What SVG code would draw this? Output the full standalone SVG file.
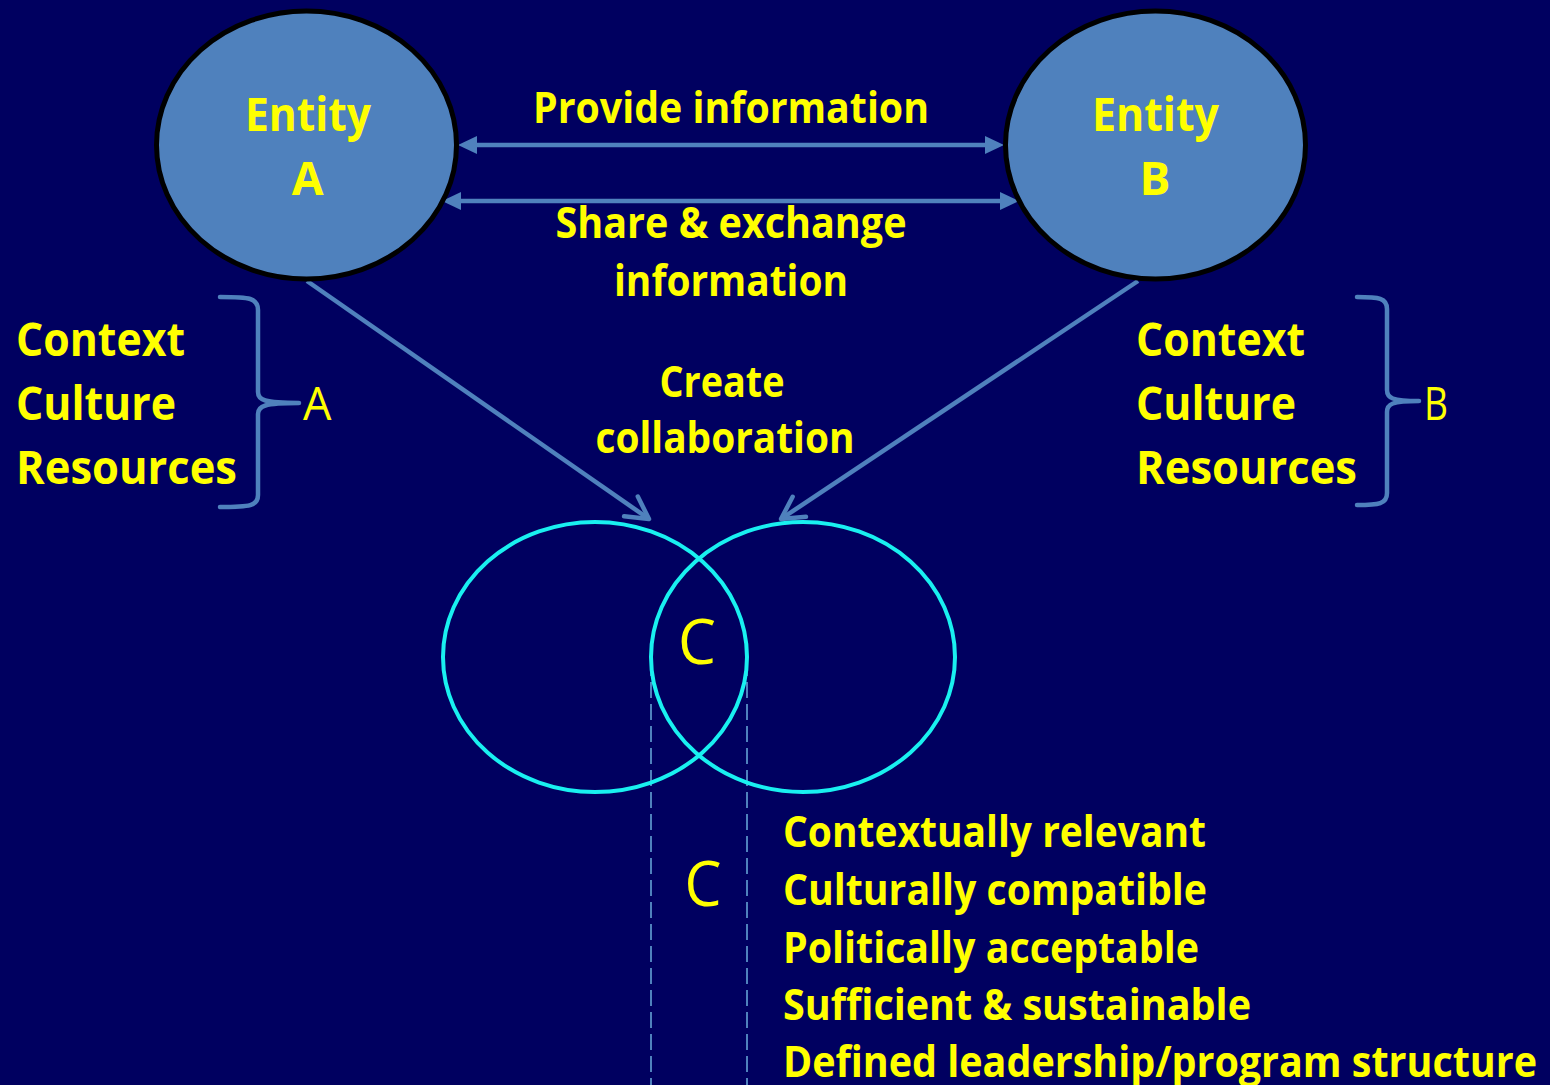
<svg xmlns="http://www.w3.org/2000/svg" width="1550" height="1085" viewBox="0 0 1550 1085">
  <style>
    .bold { font-family: "Open Sans", "Noto Sans", "Liberation Sans", sans-serif; font-weight: 700; fill: #FFFF00; }
    .reg { font-family: "Open Sans", "Noto Sans", "Liberation Sans", sans-serif; font-weight: 400; fill: #FFFF00; }
    .entity { fill: #4F81BD; stroke: #000000; stroke-width: 5; }
    .ring { fill: none; stroke: #19F0F0; stroke-width: 4; }
    .link { fill: none; stroke: #4F81BD; stroke-width: 4.5; }
    .brace { fill: none; stroke: #4F81BD; stroke-width: 4.5; stroke-linecap: round; stroke-linejoin: round; }
    .guide { fill: none; stroke: #4F81BD; stroke-width: 2; stroke-dasharray: 16 6; }
  </style>
  <defs>
    <marker id="tri" markerUnits="userSpaceOnUse" markerWidth="20" markerHeight="18" viewBox="0 0 20 18" refX="8" refY="9" orient="auto-start-reverse">
      <path d="M0,0 L19,9 L0,18 Z" fill="#4F81BD"/>
    </marker>
    <marker id="vee" markerUnits="userSpaceOnUse" markerWidth="40" markerHeight="40" viewBox="-30 -20 40 40" refX="0" refY="0" orient="auto" overflow="visible">
      <path d="M-22,-12 L0,0 L-22,12" fill="none" stroke="#4F81BD" stroke-width="4.5" stroke-linecap="round" stroke-linejoin="round"/>
    </marker>
  </defs>

  <rect x="0" y="0" width="1550" height="1085" fill="#000060"/>

  <!-- connectors -->
  <g id="connectors">
    <line class="link" x1="469" y1="145" x2="993" y2="145" marker-start="url(#tri)" marker-end="url(#tri)"/>
    <line class="link" x1="453" y1="201" x2="1008" y2="201" marker-start="url(#tri)" marker-end="url(#tri)"/>
    <line class="link" x1="307" y1="281" x2="649" y2="519" marker-end="url(#vee)"/>
    <line class="link" x1="1138" y1="281" x2="781" y2="519" marker-end="url(#vee)"/>
    <line class="guide" x1="651" y1="660" x2="651" y2="1085"/>
    <line class="guide" x1="747" y1="660" x2="747" y2="1085"/>
  </g>

  <!-- entity A -->
  <g id="entity-a">
    <ellipse class="entity" cx="306.5" cy="145" rx="150" ry="134"/>
    <text class="bold" x="308" y="131" font-size="46" text-anchor="middle" textLength="126" lengthAdjust="spacingAndGlyphs">Entity</text>
    <text class="bold" x="307.5" y="195" font-size="46" text-anchor="middle">A</text>
  </g>

  <!-- entity B -->
  <g id="entity-b">
    <ellipse class="entity" cx="1155.5" cy="145" rx="150" ry="134"/>
    <text class="bold" x="1155.5" y="131" font-size="46" text-anchor="middle" textLength="127" lengthAdjust="spacingAndGlyphs">Entity</text>
    <text class="bold" x="1155" y="195" font-size="46" text-anchor="middle">B</text>
  </g>

  <!-- link labels -->
  <g id="label-provide">
    <text class="bold" x="731" y="123" font-size="43" text-anchor="middle" textLength="396" lengthAdjust="spacingAndGlyphs">Provide information</text>
  </g>
  <g id="label-share">
    <text class="bold" x="731" y="238" font-size="43" text-anchor="middle" textLength="351" lengthAdjust="spacingAndGlyphs">Share &amp; exchange</text>
    <text class="bold" x="731" y="296" font-size="43" text-anchor="middle" textLength="234" lengthAdjust="spacingAndGlyphs">information</text>
  </g>
  <g id="label-create">
    <text class="bold" x="722" y="397" font-size="43" text-anchor="middle" textLength="125" lengthAdjust="spacingAndGlyphs">Create</text>
    <text class="bold" x="725" y="453" font-size="43" text-anchor="middle" textLength="259" lengthAdjust="spacingAndGlyphs">collaboration</text>
  </g>

  <!-- attributes of A -->
  <g id="attributes-a">
    <text class="bold" x="16" y="356" font-size="46" textLength="169" lengthAdjust="spacingAndGlyphs">Context</text>
    <text class="bold" x="16" y="420" font-size="46" textLength="160" lengthAdjust="spacingAndGlyphs">Culture</text>
    <text class="bold" x="16" y="484" font-size="46" textLength="221" lengthAdjust="spacingAndGlyphs">Resources</text>
    <path class="brace" d="M220,297 C250,297 258,298 258,310 L258,392 C258,400 264,403 299,403 C264,403 258,406 258,414 L258,495 C258,506 250,507 220,507"/>
    <text class="reg" x="303" y="420" font-size="45">A</text>
  </g>

  <!-- attributes of B -->
  <g id="attributes-b">
    <text class="bold" x="1136" y="356" font-size="46" textLength="169" lengthAdjust="spacingAndGlyphs">Context</text>
    <text class="bold" x="1136" y="420" font-size="46" textLength="160" lengthAdjust="spacingAndGlyphs">Culture</text>
    <text class="bold" x="1136" y="484" font-size="46" textLength="221" lengthAdjust="spacingAndGlyphs">Resources</text>
    <path class="brace" d="M1357,297 C1379,297 1387,298 1387,309 L1387,390 C1387,398 1392,401 1419,401 C1392,401 1387,404 1387,412 L1387,493 C1387,504 1379,505 1357,505"/>
    <text class="reg" x="1424" y="420" font-size="45" textLength="24" lengthAdjust="spacingAndGlyphs">B</text>
  </g>

  <!-- overlapping collaboration rings -->
  <g id="ring-a">
    <ellipse class="ring" cx="595" cy="657" rx="152" ry="135"/>
  </g>
  <g id="ring-b">
    <ellipse class="ring" cx="803" cy="657" rx="152" ry="135"/>
  </g>
  <g id="overlap-c">
    <text class="reg" x="697" y="664" font-size="63" text-anchor="middle" textLength="38" lengthAdjust="spacingAndGlyphs">C</text>
  </g>

  <!-- qualities of C -->
  <g id="qualities-c">
    <text class="reg" x="703" y="906" font-size="63" text-anchor="middle" textLength="37" lengthAdjust="spacingAndGlyphs">C</text>
    <text class="bold" x="783" y="847" font-size="43" textLength="423" lengthAdjust="spacingAndGlyphs">Contextually relevant</text>
    <text class="bold" x="783" y="905" font-size="43" textLength="424" lengthAdjust="spacingAndGlyphs">Culturally compatible</text>
    <text class="bold" x="783" y="963" font-size="43" textLength="416" lengthAdjust="spacingAndGlyphs">Politically acceptable</text>
    <text class="bold" x="783" y="1020" font-size="43" textLength="468" lengthAdjust="spacingAndGlyphs">Sufficient &amp; sustainable</text>
    <text class="bold" x="783" y="1077" font-size="43" textLength="754" lengthAdjust="spacingAndGlyphs">Defined leadership/program structure</text>
  </g>
</svg>
